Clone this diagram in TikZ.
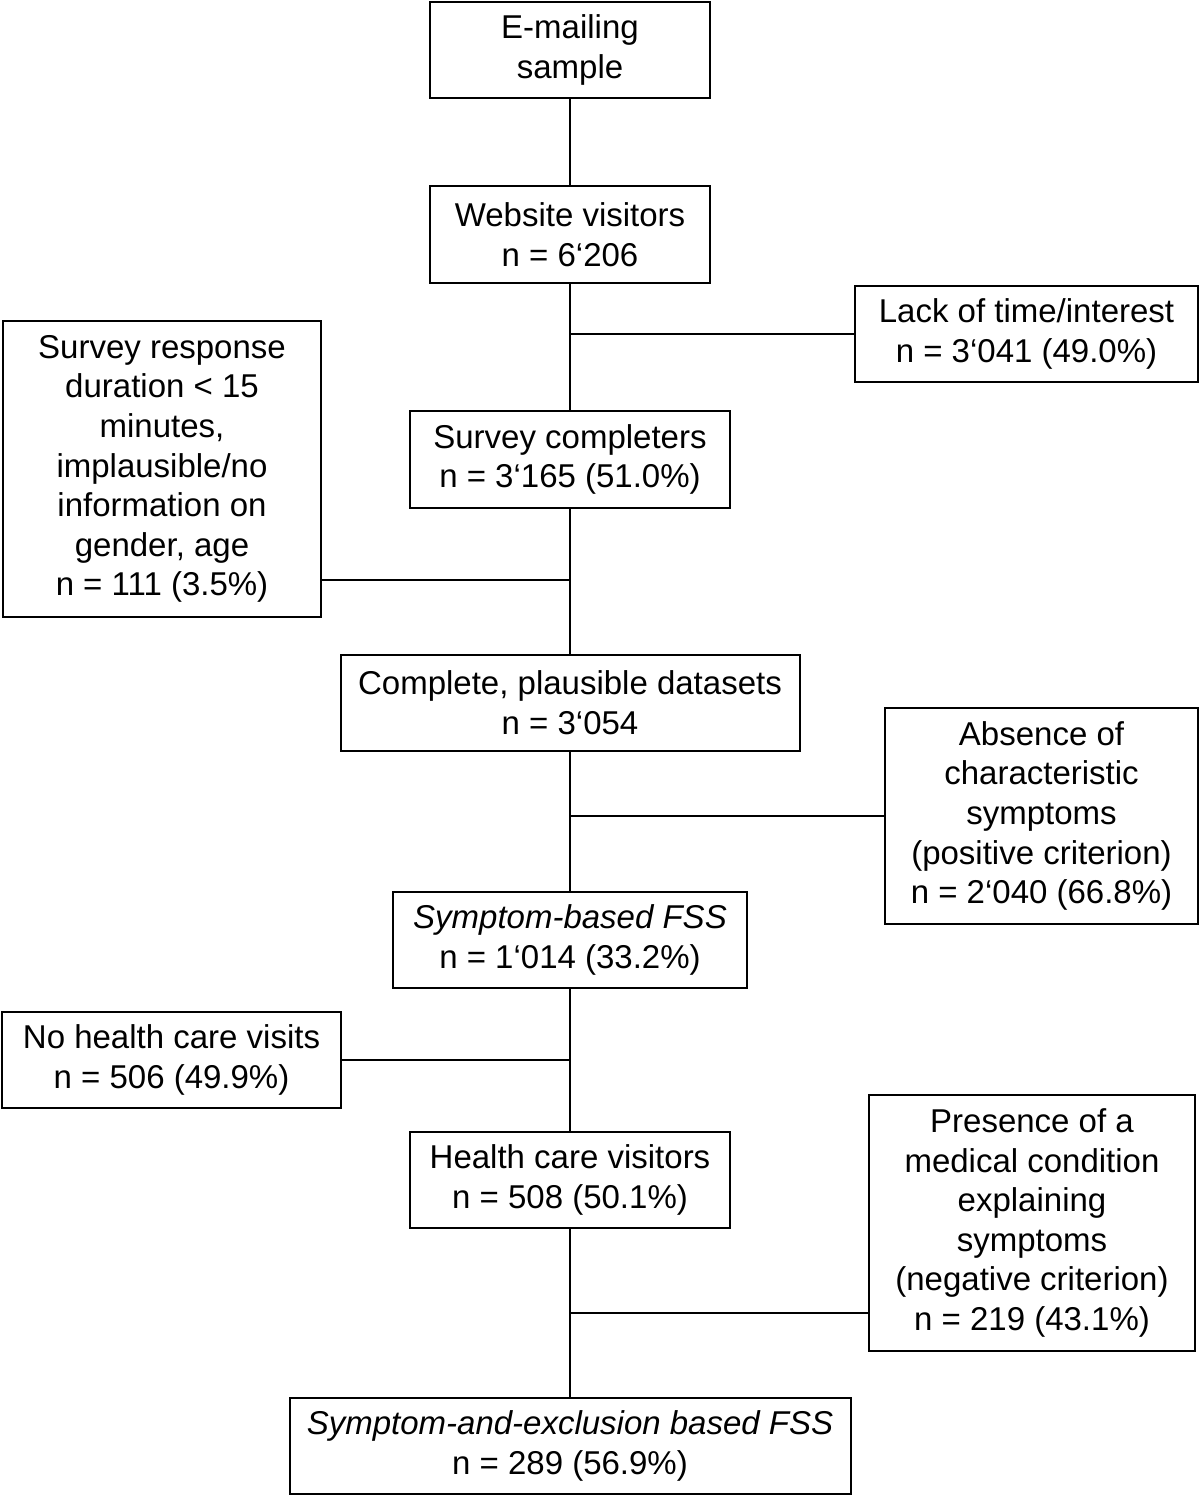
\documentclass[tikz,border=0pt]{standalone}
\usepackage{fontspec}
\setmainfont{Liberation Sans}
\usetikzlibrary{positioning}

\begin{document}
\begin{tikzpicture}[x=0.5pt, y=-0.5pt,
    box/.style={draw, line width=1pt, inner sep=0pt, outer sep=0pt, align=center,
                font=\fontsize{16.5}{19.8}\selectfont},
    link/.style={line width=1pt}]
        \useasboundingbox (0,0) rectangle (1200,1497);

        % Main stream
        \node[box, minimum width=140pt, minimum height=48pt] (email) at (570,50) {E-mailing\\sample};
        \node[box, minimum width=140pt, minimum height=48.5pt] (web) at (570,234.5) {Website visitors\\n = 6‘206};
        \node[box, minimum width=160pt, minimum height=48.5pt] (compl) at (570,459.5) {Survey completers\\n = 3‘165 (51.0\%)};
        \node[box, minimum width=229.5pt, minimum height=48pt] (data) at (570,703) {Complete, plausible datasets\\n = 3‘054};
        \node[box, minimum width=177pt, minimum height=48pt] (fss) at (570,940) {\textit{Symptom-based FSS}\\n = 1‘014 (33.2\%)};
        \node[box, minimum width=160pt, minimum height=48pt] (hcv) at (570,1180) {Health care visitors\\n = 508 (50.1\%)};
        \node[box, minimum width=280.5pt, minimum height=48pt] (final) at (570,1446) {\textit{Symptom-and-exclusion based FSS}\\n = 289 (56.9\%)};

        % Exclusions
        \node[box, minimum width=171.5pt, minimum height=48pt] (lack) at (1026.5,334) {Lack of time/interest\\n = 3‘041 (49.0\%)};
        \node[box, minimum width=159pt, minimum height=148pt] (short) at (162,469) {Survey response\\duration < 15\\minutes,\\implausible/no\\information on\\gender, age\\n = 111 (3.5\%)};
        \node[box, minimum width=156.5pt, minimum height=108pt] (absent) at (1041.5,816) {Absence of\\characteristic\\symptoms\\(positive criterion)\\n = 2‘040 (66.8\%)};
        \node[box, minimum width=169.5pt, minimum height=48pt] (nohc) at (171.5,1060) {No health care visits\\n = 506 (49.9\%)};
        \node[box, minimum width=163pt, minimum height=128pt] (medical) at (1032,1223) {Presence of a\\medical condition\\explaining\\symptoms\\(negative criterion)\\n = 219 (43.1\%)};

        % Branch points
        \coordinate (b1) at (570,334);
        \coordinate (b2) at (570,580);
        \coordinate (b3) at (570,816);
        \coordinate (b4) at (570,1060);
        \coordinate (b5) at (570,1313);

        % Connectors
        \draw[link] (email) -- (web);
        \draw[link] (web) -- (compl);
        \draw[link] (compl) -- (data);
        \draw[link] (data) -- (fss);
        \draw[link] (fss) -- (hcv);
        \draw[link] (hcv) -- (final);
        \draw[link] (b1) -- (lack);
        \draw[link] (b2) -- (b2 -| short.east);
        \draw[link] (b3) -- (absent);
        \draw[link] (b4) -- (nohc);
        \draw[link] (b5) -- (b5 -| medical.west);
    \end{tikzpicture}
\end{document}
